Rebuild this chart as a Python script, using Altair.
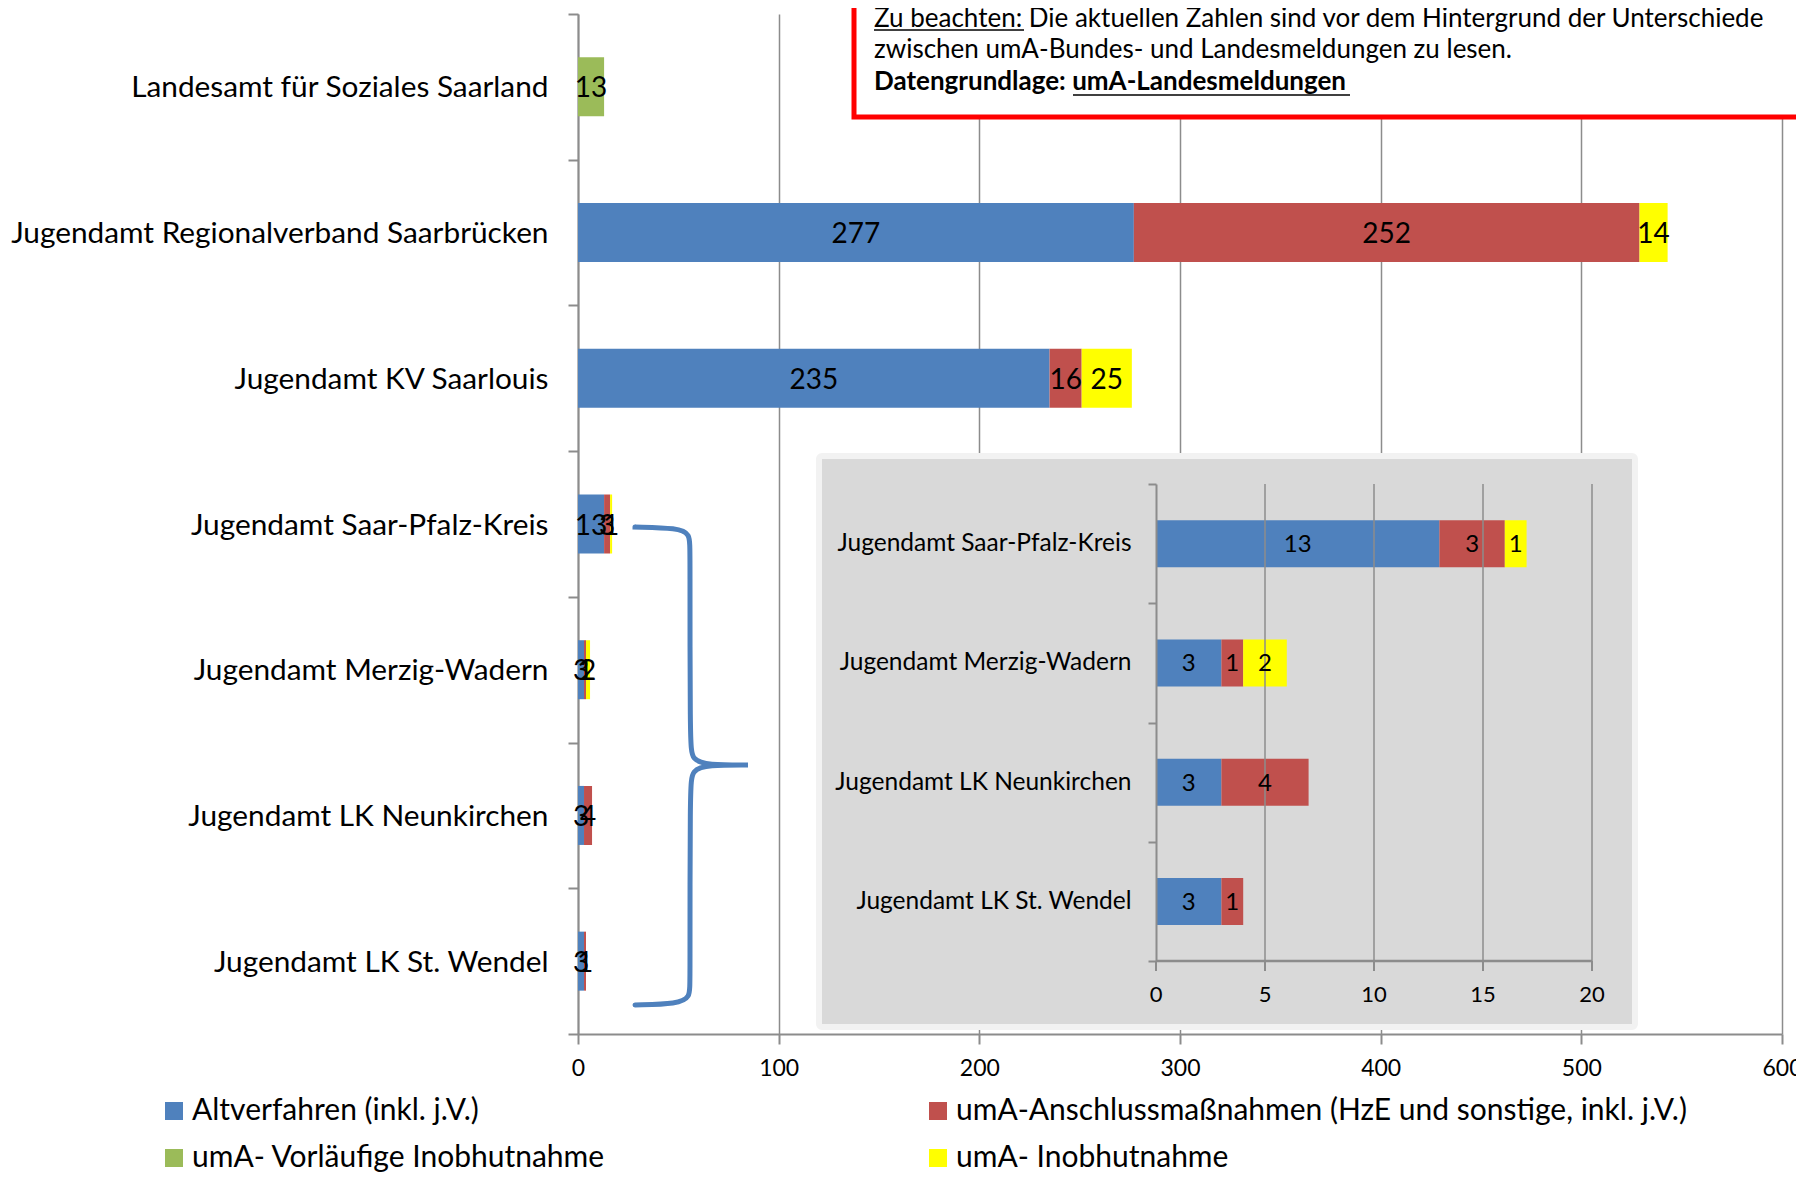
import altair as alt
import pandas as pd

# ---------------- data ----------------
CATEGORIES = [
    "Landesamt für Soziales Saarland",
    "Jugendamt Regionalverband Saarbrücken",
    "Jugendamt KV Saarlouis",
    "Jugendamt Saar-Pfalz-Kreis",
    "Jugendamt Merzig-Wadern",
    "Jugendamt LK Neunkirchen",
    "Jugendamt LK St. Wendel",
]
INSET_CATEGORIES = CATEGORIES[3:]

# legend order (column-major in the legend grid)
SERIES = [
    "Altverfahren (inkl. j.V.)",
    "umA- Vorläufige Inobhutnahme",
    "umA-Anschlussmaßnahmen (HzE und sonstige, inkl. j.V.)",
    "umA- Inobhutnahme",
]
ALTVERFAHREN = [0, 277, 235, 13, 3, 3, 3]
VORLAEUFIG = [13, 0, 0, 0, 0, 0, 0]
ANSCHLUSS = [0, 252, 16, 3, 1, 4, 1]
INOBHUT = [0, 14, 25, 1, 2, 0, 0]
STACK_ORDER = [1, 0, 2, 3]

MAIN_TICKS = [0, 100, 200, 300, 400, 500, 600]
INSET_TICKS = [0, 5, 10, 15, 20]

COLORS = ["#4F81BD", "#9BBB59", "#C0504D", "#FFFF00"]
GRAY = "#8C8C8C"
FONT = "Lato"

NOTE_LINE1 = "Zu beachten: Die aktuellen Zahlen sind vor dem Hintergrund der Unterschiede"
NOTE_LINE2 = "zwischen umA-Bundes- und Landesmeldungen zu lesen."
NOTE_LINE3 = "Datengrundlage: umA-Landesmeldungen"

# decoration: curly brace path (pixel control points)
BRACE_X = [57, 57, 57, 100, 112, 112, 112, 114, 130, 170, 170, 170, 130, 114, 112, 112, 112, 100, 57, 57, 57]
BRACE_Y = [513, 513, 513, 514, 520, 535, 730, 746, 751, 751, 751, 751, 751, 756, 772, 970, 983, 990, 991, 991, 991]

W, H = 1204, 1020
INSET_TOP, INSET_BOTTOM = 470, 947

rows = []
series_values = [ALTVERFAHREN, VORLAEUFIG, ANSCHLUSS, INOBHUT]
for i, cat in enumerate(CATEGORIES):
    for j, s in enumerate(SERIES):
        rows.append({"cat": cat, "series": s, "value": series_values[j][i], "order": STACK_ORDER[j]})
df = pd.DataFrame(rows)

one = alt.Data(values=[{"k": 1}])

base = (
    alt.Chart(df)
    .transform_filter("datum.value > 0")
    .transform_stack(stack="value", groupby=["cat"], sort=[alt.SortField("order")], as_=["v0", "v1"])
    .transform_calculate(mid="(datum.v0 + datum.v1) / 2")
)

# ---------------- main chart ----------------
main_y = alt.Y(
    "cat:N",
    sort=CATEGORIES,
    scale=alt.Scale(domain=CATEGORIES, paddingInner=0, paddingOuter=0),
    axis=alt.Axis(
        title=None, domainColor=GRAY, domainWidth=2, tickColor=GRAY, tickWidth=2,
        tickSize=10, tickBand="extent", labelFont=FONT, labelFontSize=29.8,
        labelColor="black", labelPadding=20, labelLimit=700, labelOffset=1, grid=False,
    ),
)
main_x_scale = alt.Scale(domain=[0, 600], nice=False, zero=True)

main_bars = base.mark_bar(size=59).encode(
    y=main_y,
    x=alt.X(
        "v0:Q", scale=main_x_scale,
        axis=alt.Axis(
            title=None, values=MAIN_TICKS, grid=True, gridColor=GRAY, gridWidth=1.5,
            domainColor=GRAY, domainWidth=2, tickColor=GRAY, tickWidth=2, tickSize=10,
            labelFont=FONT, labelFontSize=23, labelColor="black", labelPadding=13.5,
            labelFlush=False,
        ),
    ),
    x2="v1:Q",
    color=alt.Color(
        "series:N",
        scale=alt.Scale(domain=SERIES, range=COLORS),
        legend=alt.Legend(
            title=None, orient="none", legendX=-419, legendY=1082, columns=2,
            columnPadding=317, rowPadding=17, symbolType="square", symbolSize=324,
            symbolStrokeWidth=0, labelFont=FONT, labelFontSize=30, labelColor="black",
            labelOffset=3, labelLimit=900,
        ),
    ),
)

main_text = base.mark_text(font=FONT, fontSize=28, color="black", baseline="middle", dy=2.5).encode(
    y=alt.Y("cat:N", sort=CATEGORIES),
    x=alt.X("mid:Q"),
    text="value:Q",
)

brace = (
    alt.Chart(pd.DataFrame({"bx": BRACE_X, "by": BRACE_Y, "i": list(range(len(BRACE_X)))}))
    .mark_line(color="#4F81BD", strokeWidth=5, interpolate="basis", strokeCap="round")
    .encode(
        x=alt.X("bx:Q", scale=None, axis=None),
        y=alt.Y("by:Q", scale=None, axis=None),
        order="i:Q",
    )
)

note_box = alt.Chart(one).mark_rect(fill="white", stroke="#FF0000", strokeWidth=5).encode(
    x=alt.value(276), x2=alt.value(1300), y=alt.value(-60), y2=alt.value(103)
)
note1 = alt.Chart(one).mark_text(text=NOTE_LINE1, font=FONT, fontSize=26, align="left",
                                  baseline="middle", color="black").encode(x=alt.value(296), y=alt.value(5))
note2 = alt.Chart(one).mark_text(text=NOTE_LINE2, font=FONT, fontSize=26, align="left",
                                  baseline="middle", color="black").encode(x=alt.value(296), y=alt.value(36))
note3 = alt.Chart(one).mark_text(text=NOTE_LINE3, font=FONT, fontSize=26, fontWeight="bold",
                                  align="left", baseline="middle", color="black").encode(
    x=alt.value(296), y=alt.value(68))
ul1 = alt.Chart(one).mark_rule(color="black", strokeWidth=1.5).encode(
    x=alt.value(296), x2=alt.value(446), y=alt.value(16))
ul3 = alt.Chart(one).mark_rule(color="black", strokeWidth=1.5).encode(
    x=alt.value(495), x2=alt.value(772), y=alt.value(81))

main = alt.layer(main_bars, main_text, brace, note_box, note1, note2, note3, ul1, ul3)

# ---------------- inset ----------------
inset_x_scale = alt.Scale(domain=[0, 20], range=[578, 1014], nice=False, zero=True)
inset_base = base.transform_filter(alt.FieldOneOfPredicate(field="cat", oneOf=INSET_CATEGORIES))
ticks_df = pd.DataFrame({"t": INSET_TICKS})

inset_box = alt.Chart(one).mark_rect(fill="#D9D9D9", stroke="#F2F2F2", strokeWidth=6, cornerRadius=3).encode(
    x=alt.value(241), x2=alt.value(1057), y=alt.value(442), y2=alt.value(1013)
)

inset_bars = inset_base.mark_bar(size=47).encode(
    y=alt.Y(
        "cat:N", sort=INSET_CATEGORIES,
        scale=alt.Scale(domain=INSET_CATEGORIES, range=[INSET_TOP, INSET_BOTTOM],
                        paddingInner=0, paddingOuter=0),
        axis=alt.Axis(
            orient="left", offset=-578, title=None, domainColor=GRAY, domainWidth=2,
            tickColor=GRAY, tickWidth=2, tickSize=8, tickBand="extent", labelFont=FONT,
            labelFontSize=24.5, labelColor="black", labelPadding=17, labelLimit=500,
            grid=False, zindex=1,
        ),
    ),
    x=alt.X(
        "v0:Q", scale=inset_x_scale,
        axis=alt.Axis(orient="bottom", title=None, domain=False, ticks=False, labels=False,
                      grid=False),
    ),
    x2="v1:Q",
    color=alt.Color("series:N", legend=None),
)

inset_grid = (
    alt.Chart(ticks_df)
    .transform_filter("datum.t > 0")
    .mark_rule(color=GRAY, strokeWidth=1.5)
    .encode(x=alt.X("t:Q", scale=inset_x_scale),
            y=alt.value(INSET_TOP), y2=alt.value(INSET_BOTTOM))
)

inset_text = inset_base.mark_text(font=FONT, fontSize=24, color="black", baseline="middle", dy=1.5).encode(
    y=alt.Y("cat:N", sort=INSET_CATEGORIES),
    x=alt.X("mid:Q"),
    text="value:Q",
)

# inset horizontal axis drawn through the inset x scale
inset_axis_line = (
    alt.Chart(pd.DataFrame({"a": [INSET_TICKS[0]], "b": [INSET_TICKS[-1]]}))
    .mark_rule(color=GRAY, strokeWidth=2.5)
    .encode(x=alt.X("a:Q", scale=inset_x_scale), x2="b:Q", y=alt.value(INSET_BOTTOM))
)
inset_axis_ticks = (
    alt.Chart(ticks_df)
    .mark_rule(color=GRAY, strokeWidth=2)
    .encode(x=alt.X("t:Q", scale=inset_x_scale),
            y=alt.value(INSET_BOTTOM), y2=alt.value(INSET_BOTTOM + 10))
)
inset_axis_labels = (
    alt.Chart(ticks_df)
    .mark_text(font=FONT, fontSize=22, color="black", baseline="middle")
    .encode(x=alt.X("t:Q", scale=inset_x_scale), y=alt.value(INSET_BOTTOM + 34),
            text="t:Q")
)

inset = alt.layer(inset_box, inset_bars, inset_grid, inset_text,
                  inset_axis_line, inset_axis_ticks, inset_axis_labels)

chart = (
    alt.layer(main, inset)
    .resolve_scale(x="independent", y="independent")
    .properties(
        width=W, height=H,
        padding={"left": 570, "top": 6, "right": 14, "bottom": 141},
        autosize=alt.AutoSizeParams(type="none"),
    )
    .configure(font=FONT)
    .configure_view(stroke=None)
)

chart.save("out.html", embed_options={"renderer": "svg", "actions": False})
